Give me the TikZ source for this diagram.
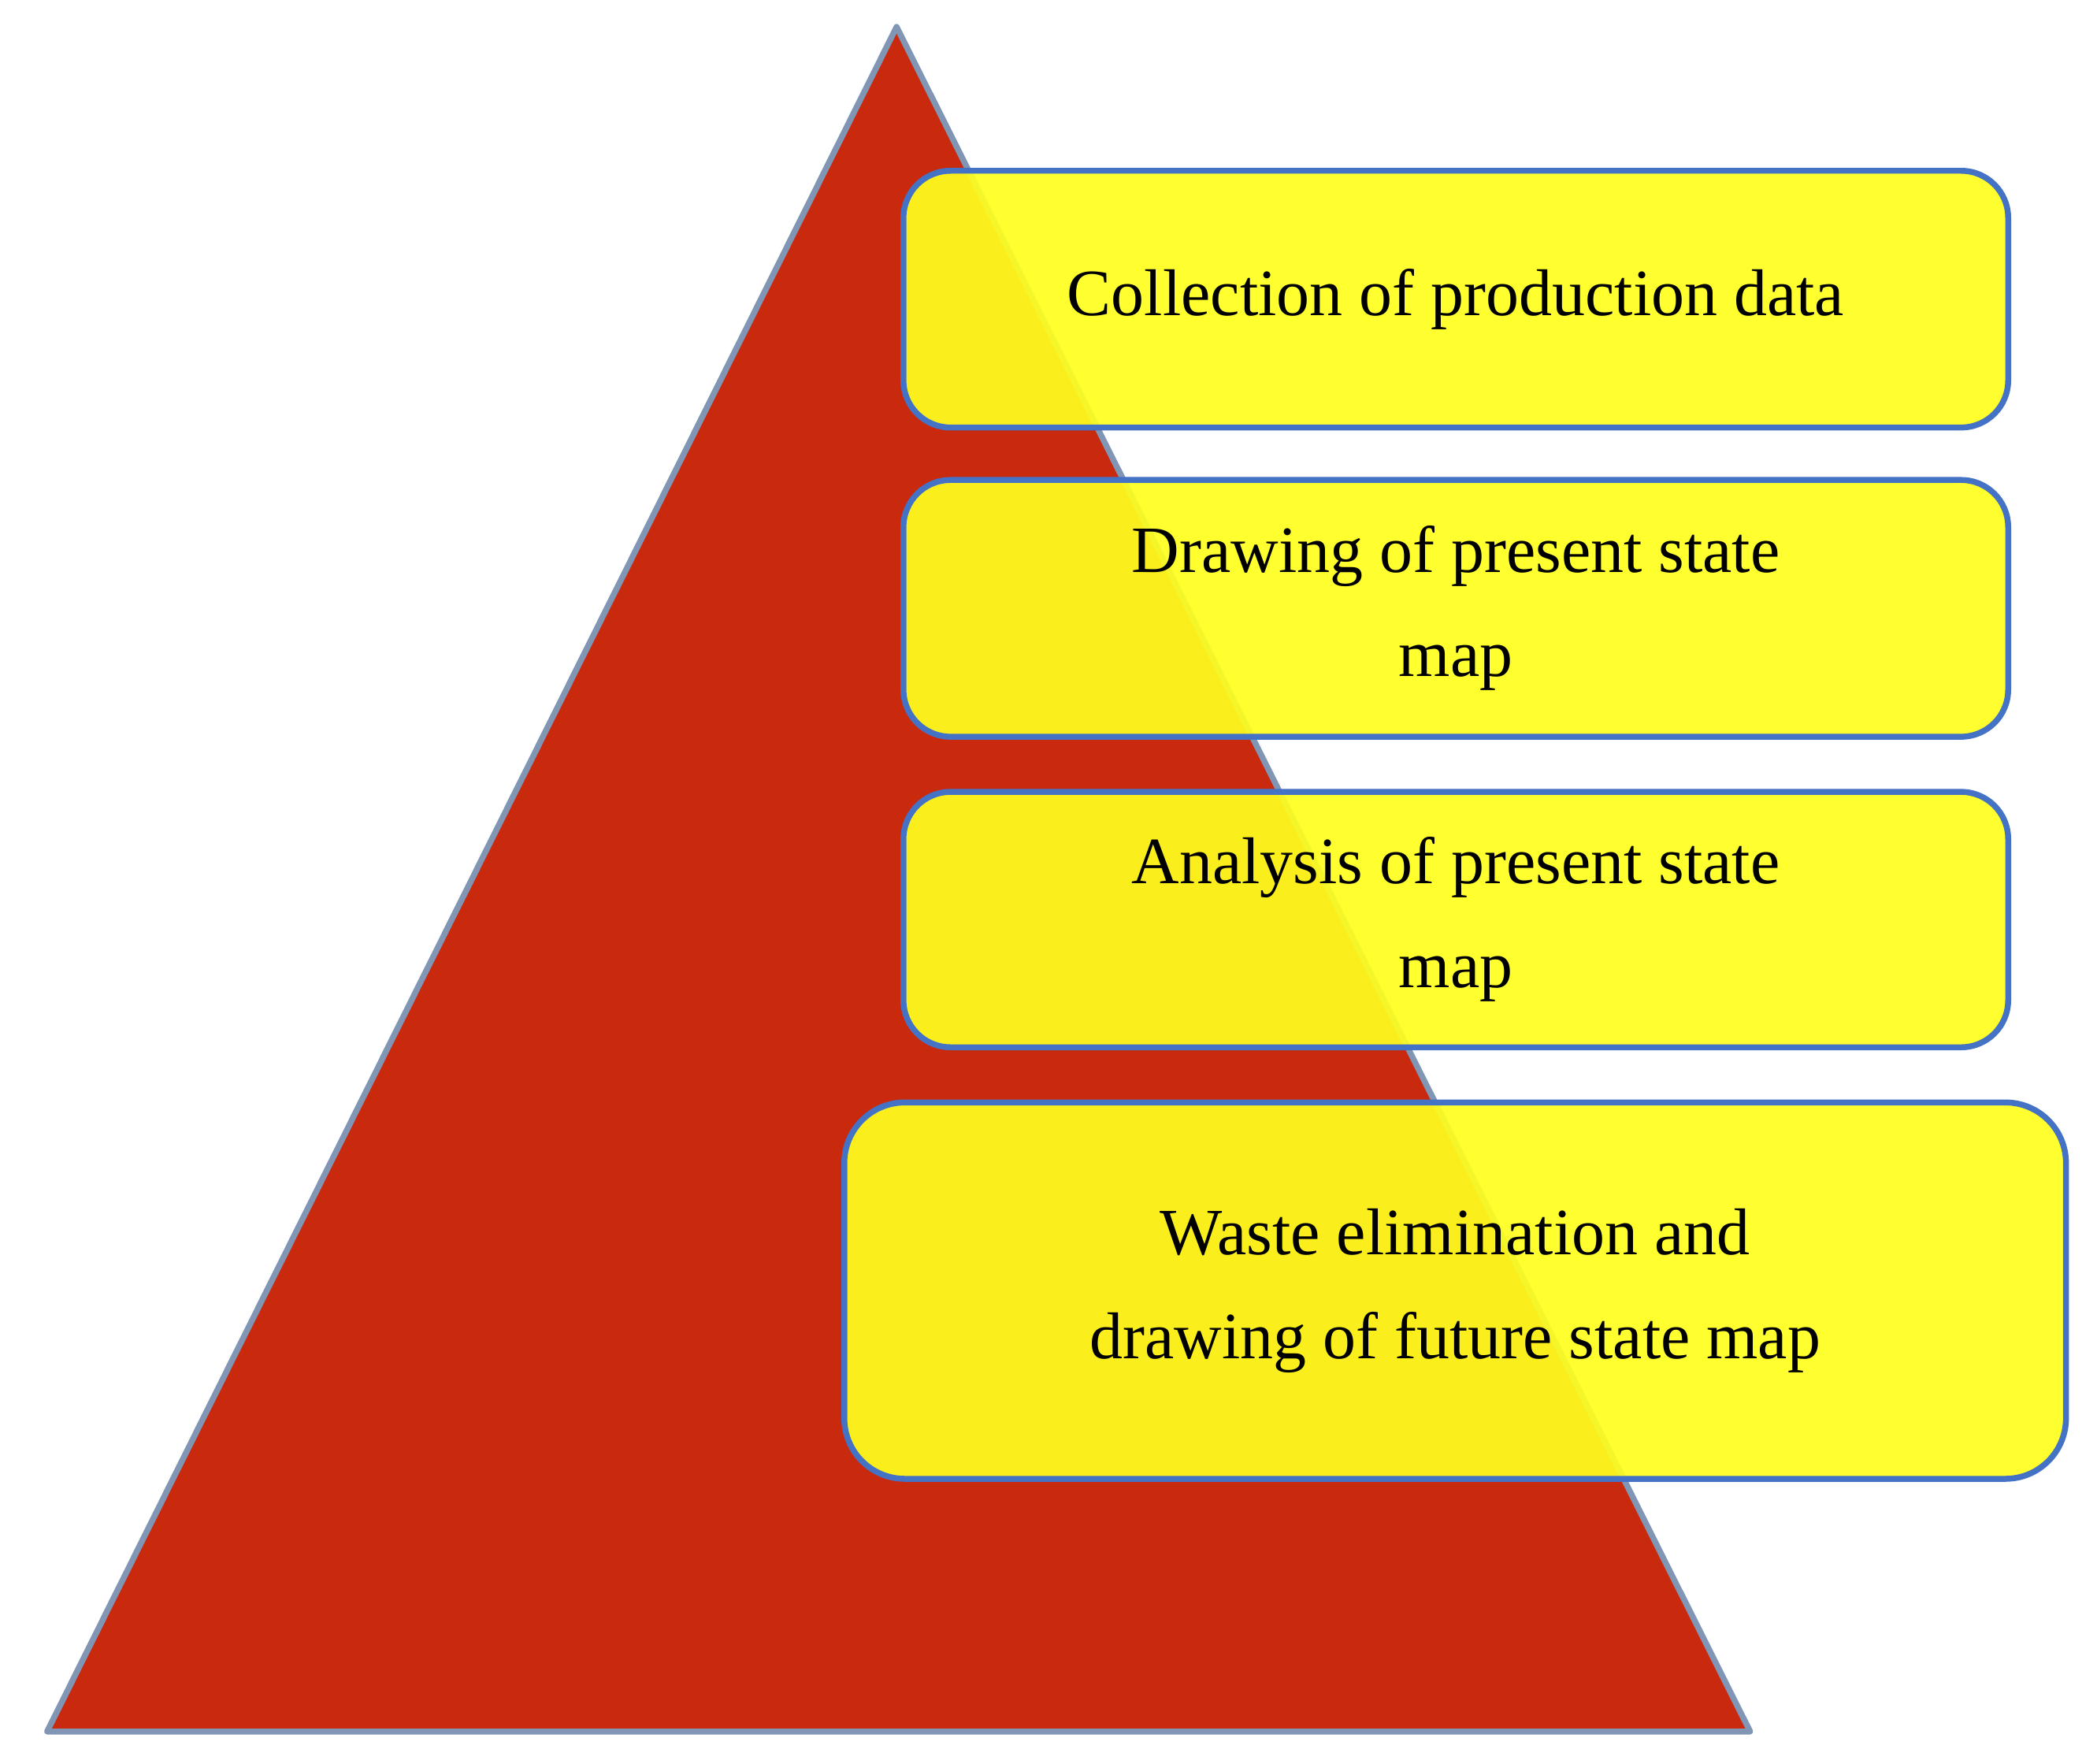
\documentclass[tikz,border=0pt]{standalone}
\usepackage{fontspec}
\setmainfont{Liberation Serif}
\definecolor{tri}{RGB}{201,42,14}
\definecolor{triedge}{RGB}{128,150,180}
\definecolor{boxfill}{RGB}{255,255,30}
\definecolor{boxedge}{RGB}{68,114,196}
\begin{document}
\begin{tikzpicture}[x=0.02cm,y=-0.02cm,
  stepbox/.style={draw=boxedge,line width=2.5pt,fill=boxfill,fill opacity=0.92,text opacity=1,rounded corners=0.7cm,align=center,font=\fontsize{28}{44}\selectfont}]
\useasboundingbox (0,0) rectangle (1560,1312);
\coordinate (apex) at (667,20);
\coordinate (bl) at (35,1288);
\coordinate (br) at (1302,1288);
\draw[fill=tri,draw=triedge,line width=2.5pt,line join=round] (apex)--(bl)--(br)--cycle;
\node[stepbox,minimum width=16.44cm,minimum height=3.82cm] (b1) at (1083,222.5) {Collection of production data};
\node[stepbox,minimum width=16.44cm,minimum height=3.82cm] (b2) at (1083,452.5) {Drawing of present state\\map};
\node[stepbox,minimum width=16.44cm,minimum height=3.8cm] (b3) at (1083,684) {Analysis of present state\\map};
\node[stepbox,minimum width=18.18cm,minimum height=5.6cm,rounded corners=0.9cm] (b4) at (1082.5,960) {Waste elimination and\\drawing of future state map};
\end{tikzpicture}
\end{document}
